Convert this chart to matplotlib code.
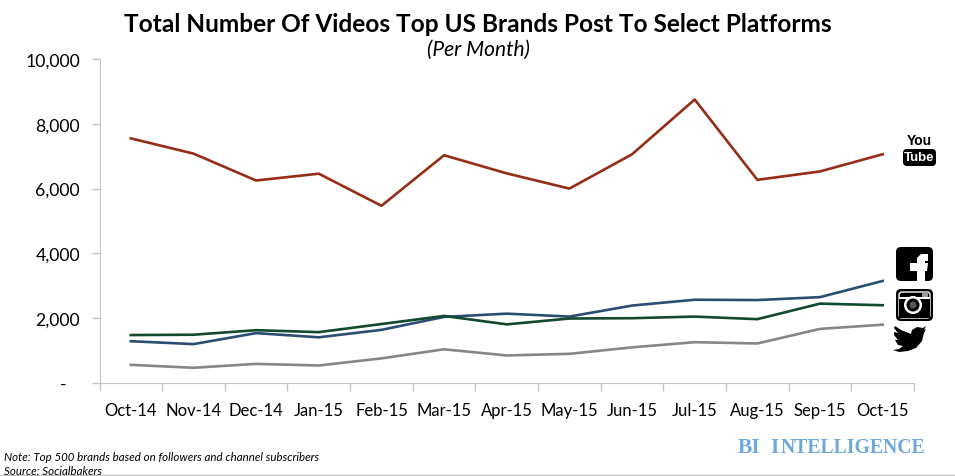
#!/usr/bin/env python3
"""Videos posted per month by top US brands, per platform."""

import numpy as np
import matplotlib
matplotlib.use('Agg')
import matplotlib.pyplot as plt
from matplotlib.patches import FancyBboxPatch, Circle, Polygon, Rectangle

months = ['Oct-14', 'Nov-14', 'Dec-14', 'Jan-15', 'Feb-15', 'Mar-15', 'Apr-15',
          'May-15', 'Jun-15', 'Jul-15', 'Aug-15', 'Sep-15', 'Oct-15']
youtube = [7550, 7080, 6250, 6460, 5470, 7030, 6470, 6000, 7060, 8750, 6270, 6530, 7060]
facebook = [1290, 1200, 1540, 1410, 1640, 2040, 2140, 2050, 2390, 2570, 2560, 2650, 3150]
instagram = [1480, 1490, 1630, 1570, 1820, 2070, 1810, 1990, 2000, 2050, 1970, 2450, 2400]
twitter = [560, 470, 590, 540, 760, 1040, 850, 900, 1100, 1260, 1220, 1670, 1800]
yticks = [0, 2000, 4000, 6000, 8000, 10000]
ylabels = ['-   ', '2,000', '4,000', '6,000', '8,000', '10,000']

W, H = 955, 477
plt.rcParams['font.family'] = ['Lato', 'DejaVu Sans']

fig = plt.figure(figsize=(W / 100, H / 100), dpi=100)
ax = fig.add_axes([99.5 / W, 1 - 384 / H, 814.5 / W, 324 / H])

x = np.arange(len(months))
ax.plot(x, youtube, color='#962d17', lw=1.9)
ax.plot(x, facebook, color='#2b4d72', lw=1.9)
ax.plot(x, instagram, color='#12492f', lw=1.9)
ax.plot(x, twitter, color='#868686', lw=1.9)

ax.set_xlim(-0.5, 12.5)
ax.set_ylim(0, 10000)
ax.set_yticks(yticks)
ax.set_yticklabels(ylabels, fontsize=12.7)
ax.set_xticks(x)
ax.set_xticklabels(months, fontsize=12)
ax.set_xticks(np.arange(14) - 0.5, minor=True)
ax.tick_params(axis='x', which='major', length=0, pad=14)
ax.tick_params(axis='x', which='minor', length=6, color='#c4c4c4', width=1, direction='out')
ax.tick_params(axis='y', length=6, color='#c4c4c4', width=1, pad=8)
ax.spines['top'].set_visible(False)
ax.spines['right'].set_visible(False)
ax.spines['left'].set_color('#c4c4c4')
ax.spines['bottom'].set_color('#c4c4c4')

fig.text(478 / W, 1 - 24 / H, 'Total Number Of Videos Top US Brands Post To Select Platforms',
         ha='center', va='center', fontsize=17.6, fontweight='bold')
fig.text(478 / W, 1 - 50 / H, '(Per Month)', ha='center', va='center',
         fontsize=15, style='italic')
fig.text(4 / W, 1 - 458 / H, 'Note: Top 500 brands based on followers and channel subscribers',
         ha='left', va='center', fontsize=8.3, style='italic')
fig.text(4 / W, 1 - 472 / H, 'Source: Socialbakers', ha='left', va='center',
         fontsize=8.3, style='italic')

# BI Intelligence logo, small caps done by hand
blue = '#6fa8dc'
logo = [('BI', 15.5, 738), ('I', 15.5, 770), ('NTELLIGENCE', 14.2, 781)]
for txt, size, px in logo:
    fig.text(px / W, 1 - 453 / H, txt, ha='left', va='baseline', color=blue, fontsize=size,
             fontweight='bold', family='Liberation Serif')
fig.add_artist(Rectangle((0, 0), 1, 1 / H, transform=fig.transFigure, color='#bdbdbd'))

# platform icons drawn in pixel coordinates on a full-figure overlay
ov = fig.add_axes([0, 0, 1, 1], facecolor='none')
ov.set_xlim(0, W)
ov.set_ylim(H, 0)
ov.axis('off')

ov.text(919, 141, 'You', ha='center', va='center', fontsize=10, fontweight='bold',
        family='Liberation Sans', color='black')
ov.add_patch(FancyBboxPatch((903, 150), 33, 17, boxstyle='round,pad=0,rounding_size=4', fc='black', ec='none'))
ov.text(919.5, 158.5, 'Tube', ha='center', va='center', fontsize=9.5, fontweight='bold',
        family='Liberation Sans', color='white')

# facebook
ov.add_patch(FancyBboxPatch((896, 248), 37, 34, boxstyle='round,pad=0,rounding_size=5', fc='black', ec='none'))
f_shape = [(917, 282), (917, 272), (910, 272), (910, 264), (917, 264), (917, 259), (921, 255),
           (928, 255), (928, 262), (925, 262), (925, 264), (928, 264), (927, 272), (925, 272), (925, 282)]
ov.add_patch(Polygon(f_shape, closed=True, fc='white', ec='none'))

# instagram
ov.add_patch(FancyBboxPatch((896, 290), 37, 32, boxstyle='round,pad=0,rounding_size=5', fc='black', ec='none'))
ov.add_patch(FancyBboxPatch((899, 293), 31, 26, boxstyle='round,pad=0,rounding_size=3', fc='none', ec='white', lw=1))
ov.add_patch(Rectangle((899, 298), 31, 21, fc='black', ec='none'))
ov.add_patch(Rectangle((899, 298), 31, 2, fc='white', ec='none'))
ov.add_patch(Circle((913, 306), 9, fc='white', ec='none'))
ov.add_patch(Circle((913, 306), 6.5, fc='black', ec='none'))
ov.add_patch(Circle((913, 306), 3.5, fc='#555555', ec='none'))
ov.add_patch(Rectangle((922, 293), 6, 5, fc='#999999', ec='none'))

# twitter bird outline, rough
bird = [(893, 351), (899, 350), (903, 347), (898, 346), (895, 341), (898, 341), (894, 336),
        (894, 333), (898, 334), (894, 329), (895, 327), (901, 331), (911, 335), (912, 331),
        (917, 328), (923, 329), (926, 327), (924, 331), (926, 330), (924, 334), (922, 342),
        (916, 349), (908, 352), (899, 353)]
ov.add_patch(Polygon(bird, closed=True, fc='black', ec='none'))

fig.savefig('out.png', dpi=100)
